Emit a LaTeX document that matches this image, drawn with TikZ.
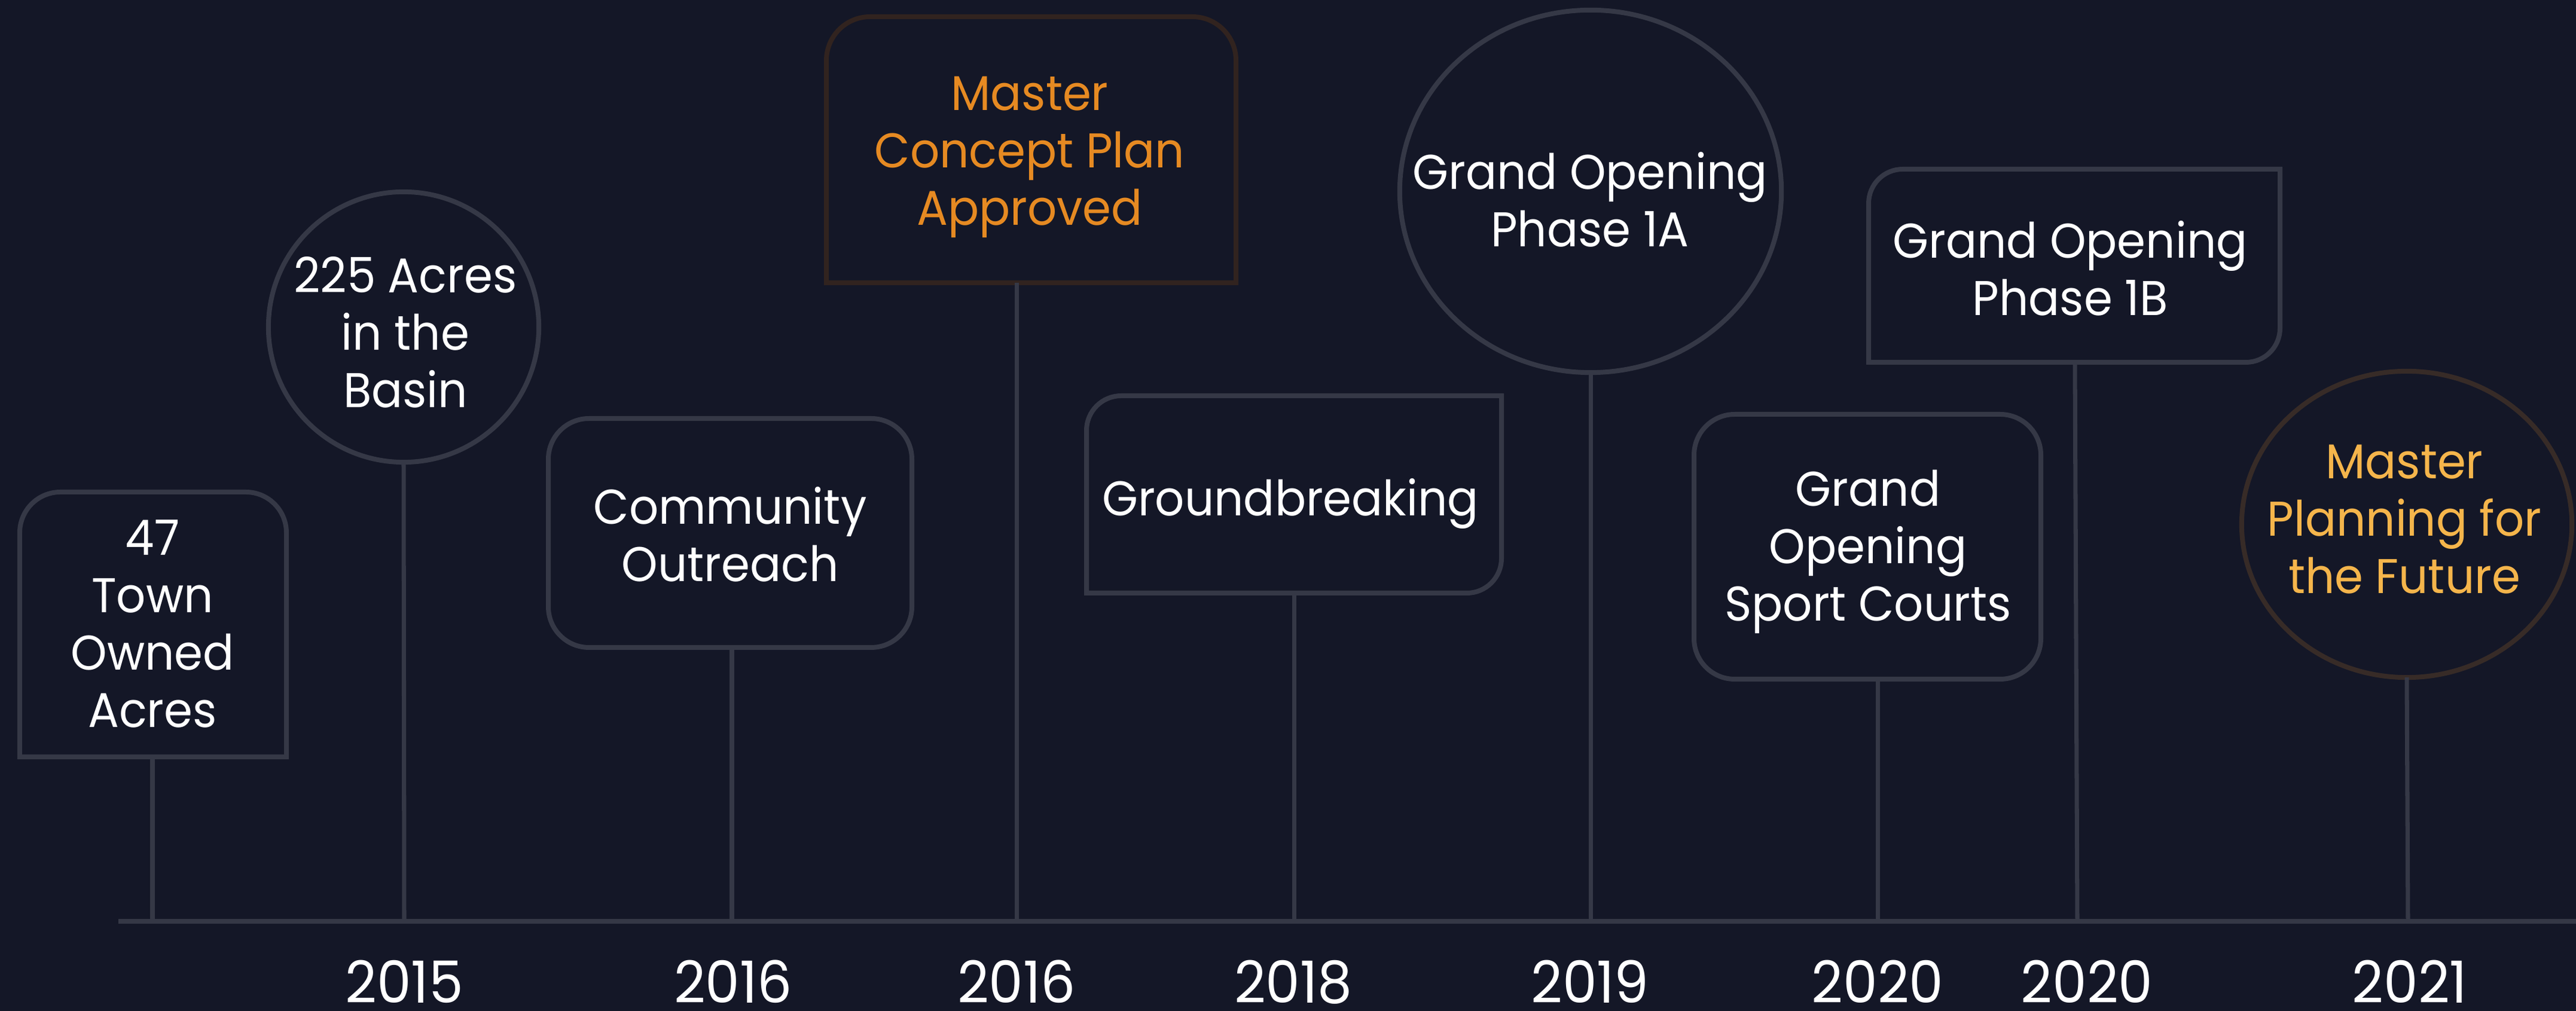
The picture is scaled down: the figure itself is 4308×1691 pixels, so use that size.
\documentclass[tikz,border=0pt]{standalone}
\usepackage{fontspec}
\setmainfont{Poppins}[FakeStretch=0.945]
\usetikzlibrary{shapes.geometric}
\definecolor{bg}{HTML}{141727}
\definecolor{linegray}{HTML}{353846}
\definecolor{brownA}{HTML}{31231F}
\definecolor{brownB}{HTML}{372B27}
\definecolor{orangeT}{HTML}{E68A22}
\definecolor{goldT}{HTML}{F5B54B}
\begin{document}
\begin{tikzpicture}[x=0.01cm,y=0.01cm,
  outline/.style={draw=linegray,line width=2.27pt},
  stemline/.style={draw=linegray,line width=2pt},
  circ/.style={draw=linegray,line width=2.27pt,inner sep=0pt,outer sep=0pt},
  lbl/.style={font=\fontsize{23.2}{27.3}\selectfont,text=white,align=center,anchor=base,inner sep=0pt},
  yr/.style={font=\fontsize{27.6}{32}\selectfont,text=white,anchor=base,inner sep=0pt}]
\fill[bg] (0,0) rectangle (4308,1691);
\useasboundingbox (0,0) rectangle (4308,1691);

% timeline coordinates
\coordinate (tlA) at (198,150);
\coordinate (tlB) at (4308,150);
\coordinate (t1) at (255,150);
\coordinate (t2) at (676,150);
\coordinate (t3) at (1224,150);
\coordinate (t4) at (1700,150);
\coordinate (t5) at (2164,150);
\coordinate (t6) at (2660,150);
\coordinate (t7) at (3140,150);
\coordinate (t8) at (3474,150);
\coordinate (t9) at (4027,150);

% box bottoms
\coordinate (b1) at (255,425);
\coordinate (b3) at (1224,608);
\coordinate (b4) at (1700,1218);
\coordinate (b5) at (2164,699);
\coordinate (b7) at (3140,555);
\coordinate (b8) at (3470,1085);

% shapes
\draw[outline] (33,425) -- (33,800) arc[start angle=180,end angle=90,radius=68] -- (411,868) arc[start angle=90,end angle=0,radius=68] -- (479,425) -- cycle;
\node[circ,circle,minimum size=4.52cm] (c2) at (675,1144) {};
\draw[outline,rounded corners=0.68cm] (917,608) rectangle (1525,991);
\draw[outline,draw=brownA] (1382,1218) -- (1382,1590) arc[start angle=180,end angle=90,radius=73] -- (1994,1663) arc[start angle=90,end angle=0,radius=73] -- (2067,1218) -- cycle;
\draw[outline] (1817,699) -- (1817,971) arc[start angle=180,end angle=90,radius=58] -- (2511,1029) -- (2511,757) arc[start angle=0,end angle=-90,radius=58] -- cycle;
\node[circ,ellipse,minimum width=6.38cm,minimum height=6.06cm] (c6) at (2660,1371) {};
\draw[outline,rounded corners=0.68cm] (2833,555) rectangle (3413,998);
\draw[outline] (3125,1085) -- (3125,1351) arc[start angle=180,end angle=90,radius=57] -- (3813,1408) -- (3813,1142) arc[start angle=0,end angle=-90,radius=57] -- cycle;
\node[circ,ellipse,draw=brownB,minimum width=5.52cm,minimum height=5.12cm] (c9) at (4025,814) {};

% stems
\draw[stemline] (b1) -- (t1);
\draw[stemline] (c2.south) -- (t2);
\draw[stemline] (b3) -- (t3);
\draw[stemline] (b4) -- (t4);
\draw[stemline] (b5) -- (t5);
\draw[stemline] (c6.south) -- (t6);
\draw[stemline] (b7) -- (t7);
\draw[stemline] (b8) -- (t8);
\draw[stemline] (c9.south) -- (t9);
\draw[draw=linegray,line width=2.27pt] (tlA) -- (tlB);

% labels (anchor = baseline of last line)
\node[lbl] (l1) at (255,474) {47\\Town\\Owned\\Acres};
\node[lbl] (l2) at (678,1009) {225 Acres\\in the\\Basin};
\node[lbl] (l3) at (1221,718) {Community\\Outreach};
\node[lbl,text=orangeT] (l4) at (1722,1314) {Master\\Concept Plan\\Approved};
\node[lbl] (l5) at (2158,828) {Groundbreaking};
\node[lbl] (l6) at (2659,1278) {Grand Opening\\Phase 1A};
\node[lbl] (l7) at (3124,652) {Grand\\Opening\\Sport Courts};
\node[lbl] (l8) at (3462,1163) {Grand Opening\\Phase 1B};
\node[lbl,text=goldT] (l9) at (4021,698) {Master\\Planning for\\the Future};

% years
\node[yr] (y1) at (676,13) {2015};
\node[yr] (y2) at (1226,13) {2016};
\node[yr] (y3) at (1700,13) {2016};
\node[yr] (y4) at (2163,13) {2018};
\node[yr] (y5) at (2659,13) {2019};
\node[yr] (y6) at (3140,13) {2020};
\node[yr] (y7) at (3490,13) {2020};
\node[yr] (y8) at (4030,13) {2021};
\end{tikzpicture}
\end{document}
